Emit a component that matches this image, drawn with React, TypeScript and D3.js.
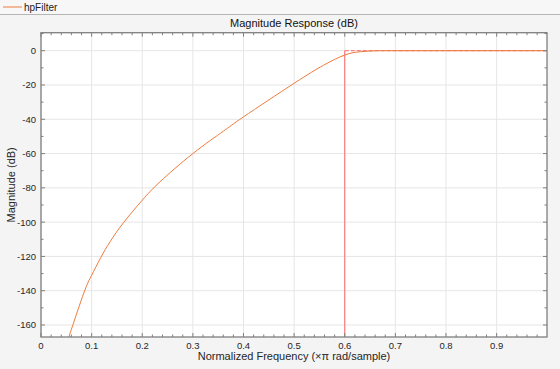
import React from "react";
import * as d3 from "d3";

const freq = [0.055, 0.085, 0.1, 0.118, 0.137, 0.163, 0.2, 0.235, 0.3, 0.36, 0.4, 0.5, 0.558, 0.6, 0.631, 0.66, 0.7, 0.8, 0.9, 0.999];
const magDb = [-167, -141, -131, -120.7, -111.2, -100.3, -87.2, -76.5, -60, -47, -38.6, -19, -8.5, -2.5, -0.6, -0.05, 0, 0, 0, 0];
const xTicks = [0, 0.1, 0.2, 0.3, 0.4, 0.5, 0.6, 0.7, 0.8, 0.9];
const yTicks = [0, -20, -40, -60, -80, -100, -120, -140, -160];
const maskFreq = 0.6;
const maskDb = 0;
const legendName = "hpFilter";

export default function App() {
  const W = 560, H = 369;
  const L = 41, R = 547, T = 32.7, B = 337;
  const x = d3.scaleLinear().domain([0, 0.9995]).range([L, R]);
  const y = d3.scaleLinear().domain([-167, 10.5]).range([B, T]);
  const xMinor = d3.range(0, 1.0, 0.02).filter((v) => Math.abs(v * 10 - Math.round(v * 10)) > 1e-6);
  const yMinor = d3.range(-170, 11, 10).filter((v) => v % 20 !== 0 && v >= -167 && v <= 10.5);
  const line = d3
    .line<number>()
    .x((_, i) => x(freq[i]))
    .y((d) => y(d))
    .curve(d3.curveNatural);
  const font = "'Liberation Sans', Arial, Helvetica, sans-serif";
  const axisColor = "#7f7f7f";
  const gridColor = "#e6e6e6";
  return (
    <svg width={W} height={H} style={{ position: "absolute", left: 0, top: 0, fontFamily: font }}>
      <rect x={0} y={0} width={W} height={H} fill="#f4f4f4" />
      {/* legend strip */}
      <rect x={0} y={0} width={W} height={14} fill="#f7f7f7" />
      <line x1={0} x2={W} y1={14.5} y2={14.5} stroke="#b5b5b5" />
      <line x1={3} x2={22} y1={7} y2={7} stroke="#ee7b3c" strokeWidth={1} />
      <text x={24} y={10.5} fontSize={10} fill="#222">{legendName}</text>
      {/* axes */}
      <defs>
        <clipPath id="clip">
          <rect x={L} y={T} width={R - L} height={B - T} />
        </clipPath>
      </defs>
      <rect x={L} y={T} width={R - L} height={B - T} fill="#ffffff" />
      {xTicks.map((t) => (
        <line key={"gx" + t} x1={x(t)} x2={x(t)} y1={T} y2={B} stroke={gridColor} />
      ))}
      {yTicks.map((t) => (
        <line key={"gy" + t} x1={L} x2={R} y1={y(t)} y2={y(t)} stroke={gridColor} />
      ))}
      <g clipPath="url(#clip)">
        <line x1={x(maskFreq)} x2={x(maskFreq)} y1={B} y2={y(maskDb)} stroke="#ff6a6a" strokeWidth={1} />
        <line x1={x(maskFreq)} x2={R} y1={y(maskDb)} y2={y(maskDb)} stroke="#ff6a6a" strokeWidth={1} strokeDasharray="4,2" />
        <path d={line(magDb) || ""} fill="none" stroke="#ee7b3c" strokeWidth={1} />
      </g>
      {/* ticks */}
      {xTicks.map((t) => (
        <g key={"tx" + t}>
          <line x1={x(t)} x2={x(t)} y1={B} y2={B - 4} stroke={axisColor} />
          <line x1={x(t)} x2={x(t)} y1={T} y2={T + 4} stroke={axisColor} />
          <text x={x(t)} y={349} fontSize={9.5} textAnchor="middle" fill="#262626">{t}</text>
        </g>
      ))}
      {xMinor.map((t) => (
        <g key={"mx" + t}>
          <line x1={x(t)} x2={x(t)} y1={B} y2={B - 2.5} stroke={axisColor} />
          <line x1={x(t)} x2={x(t)} y1={T} y2={T + 2.5} stroke={axisColor} />
        </g>
      ))}
      {yTicks.map((t) => (
        <g key={"ty" + t}>
          <line x1={L} x2={L + 4} y1={y(t)} y2={y(t)} stroke={axisColor} />
          <line x1={R} x2={R - 4} y1={y(t)} y2={y(t)} stroke={axisColor} />
          <text x={36} y={y(t) + 3.5} fontSize={9.5} textAnchor="end" fill="#262626">{t}</text>
        </g>
      ))}
      {yMinor.map((t) => (
        <g key={"my" + t}>
          <line x1={L} x2={L + 2.5} y1={y(t)} y2={y(t)} stroke={axisColor} />
          <line x1={R} x2={R - 2.5} y1={y(t)} y2={y(t)} stroke={axisColor} />
        </g>
      ))}
      <rect x={L} y={T} width={R - L} height={B - T} fill="none" stroke={axisColor} strokeWidth={1.3} />
      <text x={(L + R) / 2} y={27} fontSize={11} textAnchor="middle" fill="#111">Magnitude Response (dB)</text>
      <text x={(L + R) / 2} y={360} fontSize={11} textAnchor="middle" fill="#262626">Normalized Frequency (×π rad/sample)</text>
      <text transform={`translate(15,${(T + B) / 2}) rotate(-90)`} fontSize={11} textAnchor="middle" fill="#262626">Magnitude (dB)</text>
    </svg>
  );
}
